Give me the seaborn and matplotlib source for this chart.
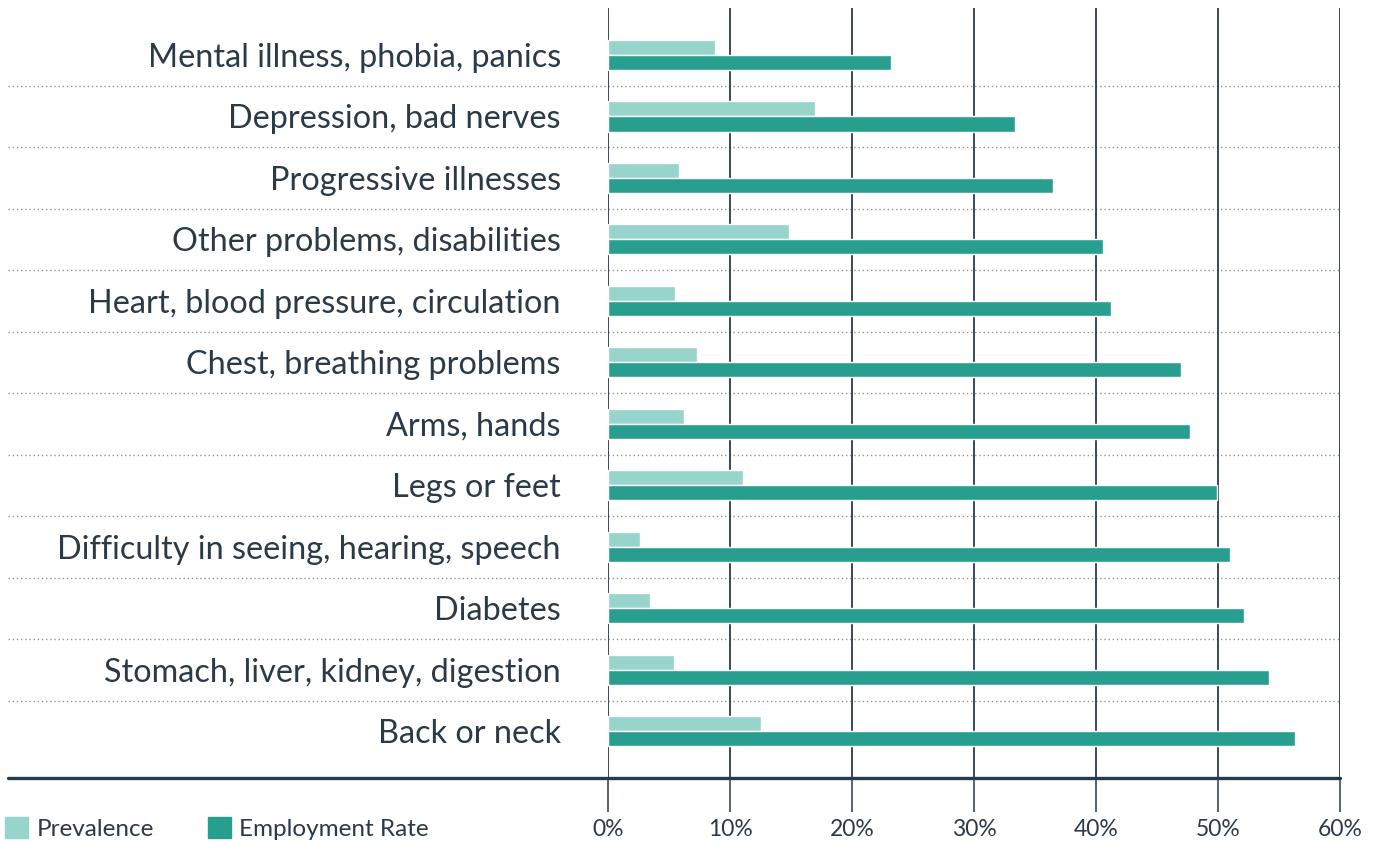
import matplotlib
matplotlib.use("Agg")
import matplotlib.pyplot as plt
import matplotlib.patches as mpatches
import seaborn as sns
import pandas as pd

# data (percent)
categories = [
    "Mental illness, phobia, panics",
    "Depression, bad nerves",
    "Progressive illnesses",
    "Other problems, disabilities",
    "Heart, blood pressure, circulation",
    "Chest, breathing problems",
    "Arms, hands",
    "Legs or feet",
    "Difficulty in seeing, hearing, speech",
    "Diabetes",
    "Stomach, liver, kidney, digestion",
    "Back or neck",
]
prevalence = [8.8, 17.0, 5.8, 14.8, 5.5, 7.3, 6.2, 11.1, 2.6, 3.4, 5.4, 12.5]
employment_rate = [23.2, 33.4, 36.5, 40.6, 41.2, 47.0, 47.7, 49.9, 51.0, 52.1, 54.2, 56.3]
series_names = ["Prevalence", "Employment Rate"]
x_ticks = [0, 10, 20, 30, 40, 50, 60]

LIGHT = "#96d4cc"
TEAL = "#289e8e"
INK = "#2b3a47"
FONT = "Lato"

df = pd.DataFrame({
    "category": categories * 2,
    "value": prevalence + employment_rate,
    "series": [series_names[0]] * len(categories) + [series_names[1]] * len(categories),
})

sns.set_style("white")
plt.rcParams["font.family"] = [FONT, "DejaVu Sans"]

fig = plt.figure(figsize=(13.8, 8.42), dpi=100)
ax = fig.add_axes([0.4406, 0.0760, 0.5304, 0.9145])

sns.barplot(data=df, y="category", x="value", hue="series", order=categories,
            hue_order=series_names, palette=[LIGHT, TEAL], width=0.49,
            saturation=1, legend=False, ax=ax)

ax.set_xlim(0, 60)
ax.set_ylim(11.76, -0.764)
ax.set_xlabel("")
ax.set_ylabel("")
for s in ax.spines.values():
    s.set_visible(False)

# vertical grid lines and long ticks below the axis
ax.set_xticks(x_ticks)
ax.set_xticklabels([f"{t}%" for t in x_ticks], fontsize=16.5, color=INK)
ax.xaxis.grid(True, color=INK, linewidth=1.3)
ax.set_axisbelow(True)
ax.tick_params(axis="x", length=24.5, width=1.1, color=INK, pad=5, bottom=True)

# category labels
ax.tick_params(axis="y", length=0, pad=34)
ax.set_yticklabels(categories, fontsize=23.3, color=INK)

# dotted separators spanning the label area
for i in range(len(categories) - 1):
    ax.axhline(i + 0.5, xmin=-0.82, xmax=1.0, color="#8a96a0", linewidth=1.0,
               linestyle=(0, (1, 2)), clip_on=False, zorder=0)

# heavy baseline
ax.axhline(11.76, xmin=-0.82, xmax=1.0, color=INK, linewidth=2.4, clip_on=False)

# legend
handles = [mpatches.Patch(color=LIGHT, label=series_names[0]),
           mpatches.Patch(color=TEAL, label=series_names[1])]
fig.legend(handles=handles, loc="lower left", bbox_to_anchor=(-0.005, -0.012), ncol=2,
           frameon=False, fontsize=17.5, handlelength=0.95, handleheight=0.95,
           handletextpad=0.35, columnspacing=2.2, borderaxespad=0.2,
           borderpad=0.3, labelcolor=INK)

fig.savefig("out.png", dpi=100)
